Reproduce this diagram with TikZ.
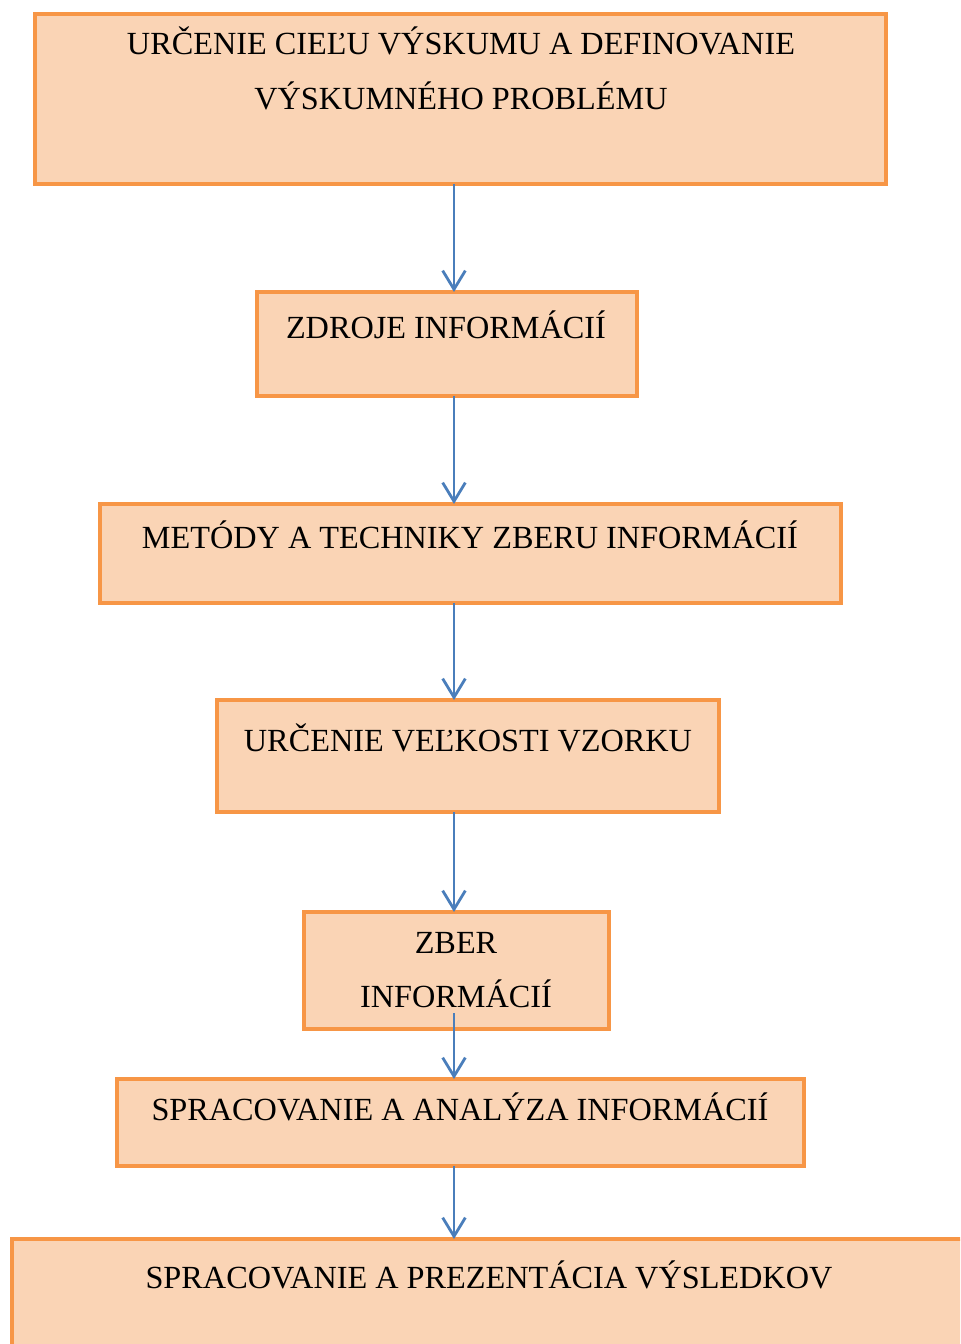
\documentclass[tikz,border=0pt]{standalone}
\usepackage{fontspec}
\setmainfont{Liberation Serif}
\usetikzlibrary{arrows.meta}
\definecolor{boxfill}{HTML}{FAD4B5}
\definecolor{boxline}{HTML}{F79646}
\definecolor{arrowblue}{HTML}{4A7EBB}
\tikzset{
  box/.style 2 args={draw=boxline, fill=boxfill, line width=3.2pt, rectangle,
    minimum width=#1*0.75pt, minimum height=#2*0.75pt, inner sep=0pt, outer sep=0pt},
  lbl/.style={anchor=base, inner sep=0pt, font=\fontsize{24.2pt}{28pt}\selectfont},
  conn/.style={draw=arrowblue, line width=2.1pt, -{Straight Barb[length=14pt,width=17pt,line width=2.1pt]}}
}
\begin{document}
\begin{tikzpicture}[x=0.75pt,y=-0.75pt]
\useasboundingbox (0,0) rectangle (960,1344);
\clip (0,0) rectangle (960,1344);
\coordinate (ax) at (454,0);
\node[box={851}{170}] (b1) at (460.5,99) {};
\node[box={380}{104}] (b2) at (447,344) {};
\node[box={741}{99}] (b3) at (470.5,553.5) {};
\node[box={502}{112}] (b4) at (468,756) {};
\node[box={305}{117}] (b5) at (456.5,970.5) {};
\node[box={687}{87}] (b6) at (460.5,1122.5) {};
\node[box={988}{181}] (b7) at (506,1329.5) {};
\node[lbl] (t1a) at (461,55) {URČENIE CIEĽU VÝSKUMU A DEFINOVANIE};
\node[lbl] (t1b) at (461,110) {VÝSKUMNÉHO PROBLÉMU};
\node[lbl] (t2) at (446,338) {ZDROJE INFORMÁCIÍ};
\node[lbl] (t3) at (470,548) {METÓDY A TECHNIKY ZBERU INFORMÁCIÍ};
\node[lbl] (t4) at (468,751) {URČENIE VEĽKOSTI VZORKU};
\node[lbl] (t5a) at (456,953) {ZBER};
\node[lbl] (t5b) at (456,1007) {INFORMÁCIÍ};
\node[lbl] (t6) at (460,1120) {SPRACOVANIE A ANALÝZA INFORMÁCIÍ};
\node[lbl] (t7) at (489,1288) {SPRACOVANIE A PREZENTÁCIA VÝSLEDKOV};
\draw[conn] (b1.south -| ax) -- (b2.north -| ax);
\draw[conn] (b2.south -| ax) -- (b3.north -| ax);
\draw[conn] (b3.south -| ax) -- (b4.north -| ax);
\draw[conn] (b4.south -| ax) -- (b5.north -| ax);
\draw[conn] ([yshift=12pt]b5.south -| ax) -- (b6.north -| ax);
\draw[conn] (b6.south -| ax) -- (b7.north -| ax);
\end{tikzpicture}
\end{document}
